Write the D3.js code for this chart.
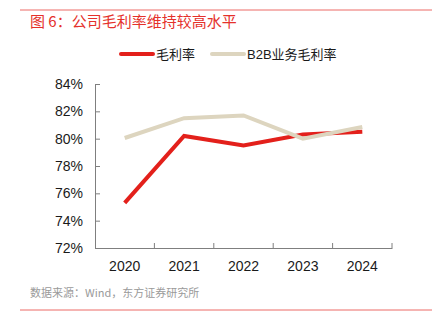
<!DOCTYPE html>
<html>
<head>
<meta charset="utf-8">
<script src="https://cdn.jsdelivr.net/npm/d3@7"></script>
<style>
  body { margin: 0; background: #fff; }
  svg { display: block; font-family: "Liberation Sans", "Noto Sans CJK SC", sans-serif; }
</style>
</head>
<body>
<svg id="chart"></svg>
<script>
const years = ["2020", "2021", "2022", "2023", "2024"];
const grossMargin = [75.3, 80.2, 79.5, 80.3, 80.5];
const b2bMargin = [80.05, 81.5, 81.7, 80.0, 80.85];
const yTicks = [72, 74, 76, 78, 80, 82, 84];

const width = 433;
const height = 328;
const margin = { top: 84, right: 41, bottom: 80, left: 95 };

const svg = d3.select("#chart").attr("width", width).attr("height", height);

// frame rules and titles
svg.append("line")
  .attr("x1", 20).attr("x2", 432).attr("y1", 10).attr("y2", 10)
  .attr("stroke", "#ec6a66").attr("stroke-width", 1);
svg.append("line")
  .attr("x1", 20).attr("x2", 432).attr("y1", 310).attr("y2", 310)
  .attr("stroke", "#ec6a66").attr("stroke-width", 1);

svg.append("text")
  .attr("x", 30).attr("y", 27)
  .attr("fill", "#e5312b")
  .style("font-size", "15px")
  .style("font-family", "'Noto Sans CJK SC', sans-serif")
  .text("图 6：公司毛利率维持较高水平");

svg.append("text")
  .attr("x", 30).attr("y", 297)
  .attr("fill", "#9a9a9a")
  .style("font-size", "11px")
  .style("font-family", "'Noto Sans CJK SC', sans-serif")
  .text("数据来源：Wind，东方证券研究所");

const x = d3.scaleBand()
  .domain(years)
  .range([margin.left, width - margin.right]);

const y = d3.scaleLinear()
  .domain([72, 84])
  .range([height - margin.bottom, margin.top]);

// y axis, ticks pointing inward
const yAxis = svg.append("g")
  .attr("transform", `translate(${margin.left},0)`)
  .call(d3.axisLeft(y).tickValues(yTicks).tickFormat(d => d + "%").tickSize(0).tickPadding(12));
yAxis.select(".domain").attr("stroke", "#7f7f7f");
yAxis.selectAll(".tick").append("line")
  .attr("x1", 0).attr("x2", 5).attr("stroke", "#7f7f7f");
yAxis.selectAll("text")
  .attr("fill", "#1a1a1a")
  .style("font-size", "14px");

// x axis, ticks at band edges pointing up
const xAxis = svg.append("g")
  .attr("transform", `translate(0,${height - margin.bottom})`)
  .call(d3.axisBottom(x).tickSize(0).tickPadding(13));
xAxis.select(".domain").attr("stroke", "#7f7f7f");
xAxis.selectAll("text")
  .attr("fill", "#1a1a1a")
  .style("font-size", "14px");
xAxis.selectAll(".edge")
  .data(years)
  .join("line")
  .attr("x1", d => x(d) + x.bandwidth())
  .attr("x2", d => x(d) + x.bandwidth())
  .attr("y1", 0).attr("y2", -5)
  .attr("stroke", "#7f7f7f");

const series = [
  { name: "毛利率", values: grossMargin, color: "#e3201b" },
  { name: "B2B业务毛利率", values: b2bMargin, color: "#ddd5bf" }
];

const line = d3.line()
  .x((d, i) => x(years[i]) + x.bandwidth() / 2)
  .y(d => y(d));

// series in legend order, so the B2B line is painted over the red one
svg.selectAll(".series")
  .data(series)
  .join("path")
  .attr("class", "series")
  .attr("d", d => line(d.values))
  .attr("fill", "none")
  .attr("stroke", d => d.color)
  .attr("stroke-width", 4);

// legend
const legendX = [121, 212];
const legend = svg.selectAll(".legend")
  .data(series)
  .join("g")
  .attr("class", "legend")
  .attr("transform", (d, i) => `translate(${legendX[i]},54)`);
legend.append("line")
  .attr("x1", 0).attr("x2", 32)
  .attr("stroke", d => d.color)
  .attr("stroke-width", 4)
  .attr("stroke-linecap", "round");
legend.append("text")
  .attr("x", 35).attr("y", 5)
  .attr("fill", "#1a1a1a")
  .style("font-size", "13px")
  .style("font-family", "'Liberation Sans', 'Noto Sans CJK SC', sans-serif")
  .text(d => d.name);
</script>
</body>
</html>
